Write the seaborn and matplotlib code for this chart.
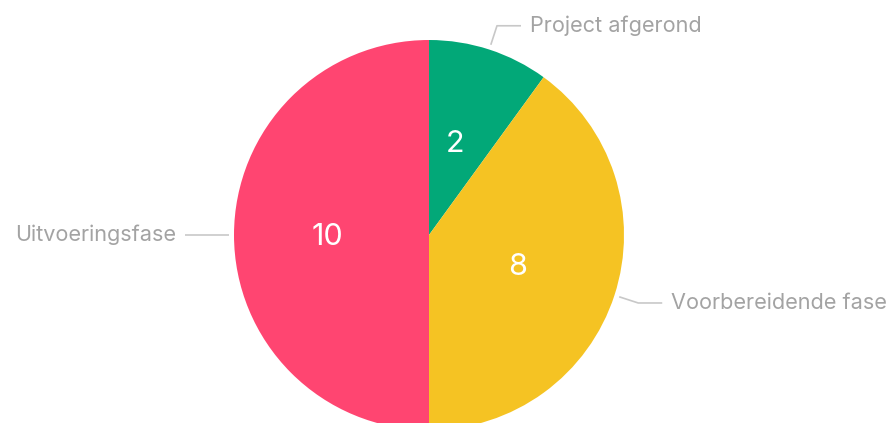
import numpy as np
import matplotlib
matplotlib.use("Agg")
import matplotlib.pyplot as plt
import seaborn as sns

categories = ["Project afgerond", "Voorbereidende fase", "Uitvoeringsfase"]
values = [2, 8, 10]
colors = ["#02A878", "#F5C323", "#FF4571"]

sns.set_theme(style="white")
plt.rcParams['font.family'] = ['Inter', 'DejaVu Sans']

W, H = 891, 423
fig = plt.figure(figsize=(W / 100, H / 100), dpi=100)
ax = fig.add_axes([0, 0, 1, 1])

cx, cy, R = 429, H - 235, 195
wedges, texts, autotexts = ax.pie(
    values, colors=colors, startangle=90, counterclock=False,
    center=(cx, cy), radius=R, frame=True,
    autopct=lambda p: f"{int(round(p * sum(values) / 100))}",
    pctdistance=0.5, wedgeprops=dict(linewidth=0),
    textprops=dict(color="white", fontsize=22))
for t in autotexts:
    x, y = t.get_position()
    t.set_position((x - 4, y - 2))
ax.set_xlim(0, W)
ax.set_ylim(0, H)
ax.set_aspect('equal')
ax.axis('off')

line_col = "#c8c8c8"
text_col = "#a3a3a3"
for w, lab in zip(wedges, categories):
    ang = np.deg2rad((w.theta1 + w.theta2) / 2)
    c, s = np.cos(ang), np.sin(ang)
    p0 = (cx + (R + 5) * c, cy + (R + 5) * s)
    p1 = (cx + (R + 25) * c, cy + (R + 25) * s)
    sign = 1 if c >= 0 else -1
    p2 = (p1[0] + sign * 24, p1[1])
    ax.plot([p0[0], p1[0], p2[0]], [p0[1], p1[1], p2[1]], color=line_col, lw=1.2,
            solid_capstyle='butt')
    ax.text(p2[0] + sign * 9, p2[1], lab, color=text_col, fontsize=15.6,
            ha='left' if sign > 0 else 'right', va='center')

fig.savefig("out.png", dpi=100, facecolor="white")
